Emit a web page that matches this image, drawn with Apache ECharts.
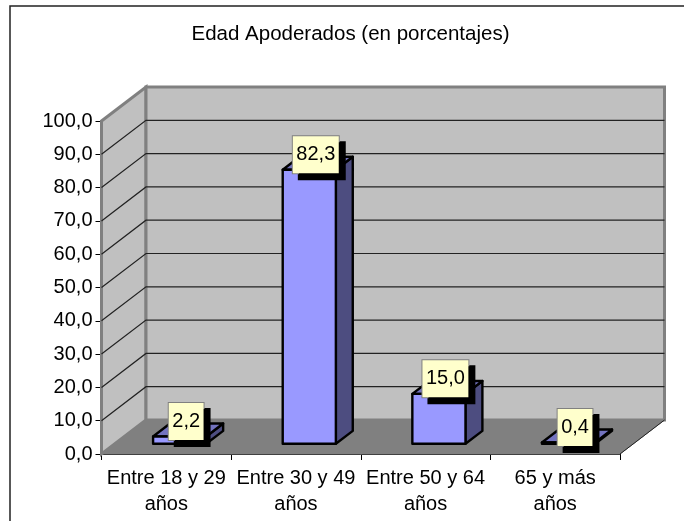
<!DOCTYPE html>
<html>
<head>
<meta charset="utf-8">
<style>
html, body { margin: 0; padding: 0; background: #fff; }
#chart { width: 684px; height: 521px; }
</style>
<script src="https://cdn.jsdelivr.net/npm/echarts@6/dist/echarts.min.js"></script>
</head>
<body>
<div id="chart"></div>
<script>
const categories = ['Entre 18 y 29\naños', 'Entre 30 y 49\naños', 'Entre 50 y 64\naños', '65 y más\naños']
const values = [2.2, 82.3, 15.0, 0.4]
const yTicks = [0, 10, 20, 30, 40, 50, 60, 70, 80, 90, 100]

// oblique offset of the back wall
const depthX = 44.5
const depthY = -34

const fmt = (v) => v.toFixed(1).replace('.', ',')

const chart = echarts.init(document.getElementById('chart'))

function renderWalls(params, api) {
    const cs = params.coordSys
    const y = api.coord([0, api.value(1)])[1]
    const left = cs.x
    const right = cs.x + cs.width
    const top = cs.y
    const bottom = cs.y + cs.height
    const children = []
    if (params.dataIndex === 0) {
        // side wall, back wall and floor go under the grid lines
        children.push({
            type: 'polygon',
            z2: 1,
            shape: { points: [[left, top], [left + depthX, top + depthY], [left + depthX, bottom + depthY], [left, bottom]] },
            style: { fill: '#c0c0c0', stroke: '#808080', lineWidth: 3 },
        })
        children.push({
            type: 'rect',
            z2: 1,
            shape: { x: left + depthX, y: top + depthY, width: cs.width, height: cs.height },
            style: { fill: '#c0c0c0', stroke: '#808080', lineWidth: 3 },
        })
        children.push({
            type: 'polygon',
            z2: 3,
            shape: { points: [[left, bottom], [left + depthX, bottom + depthY], [right + depthX, bottom + depthY], [right, bottom]] },
            style: { fill: '#808080', stroke: '#808080', lineWidth: 1 },
        })
        // thin dark edge on the open side of the floor
        children.push({
            type: 'line',
            z2: 4,
            shape: { x1: right, y1: bottom, x2: right + depthX, y2: bottom + depthY },
            style: { stroke: '#222', lineWidth: 1 },
        })
        return { type: 'group', children }
    }
    // the top edge of the walls stays grey, no dark line there
    if (params.dataIndex === yTicks.length - 1) {
        return { type: 'group', children }
    }
    children.push({
        type: 'polyline',
        z2: 2,
        shape: { points: [[left, y], [left + depthX, y + depthY], [right + depthX, y + depthY]] },
        style: { fill: null, stroke: '#222', lineWidth: 1.2 },
    })
    return { type: 'group', children }
}

function renderBars(params, api) {
    const c = api.coord([api.value(0), api.value(1)])
    const base = api.coord([api.value(0), 0])
    const band = api.size([1, 0])[0]
    const w = band * 0.41
    // bar sits between 30% and 68% of the floor depth
    const ox = depthX * 0.3
    const oy = depthY * 0.3
    const sx = depthX * 0.38
    const sy = depthY * 0.38
    const x0 = c[0] + ox - w / 2
    const x1 = x0 + w
    const yTop = c[1] + oy
    const yBot = base[1] + oy
    const edge = { stroke: '#000', lineWidth: 2.4, lineJoin: 'round' }
    return {
        type: 'group',
        children: [
            {
                type: 'polygon',
                shape: { points: [[x1, yTop], [x1 + sx, yTop + sy], [x1 + sx, yBot + sy], [x1, yBot]] },
                style: { fill: '#4d4d80', ...edge },
            },
            {
                type: 'polygon',
                shape: { points: [[x0, yTop], [x0 + sx, yTop + sy], [x1 + sx, yTop + sy], [x1, yTop]] },
                style: { fill: '#7373bf', ...edge },
            },
            {
                type: 'rect',
                shape: { x: x0, y: yTop, width: w, height: yBot - yTop },
                style: { fill: '#9999ff', ...edge },
            },
            {
                type: 'text',
                z2: 10,
                style: {
                    x: c[0] + ox + 6.5,
                    y: yTop - 15,
                    text: fmt(api.value(1)),
                    align: 'center',
                    verticalAlign: 'middle',
                    fontFamily: 'Liberation Sans',
                    fontSize: 20,
                    lineHeight: 23,
                    fill: '#000',
                    backgroundColor: '#ffffcc',
                    borderColor: '#808080',
                    borderWidth: 1,
                    padding: [7, 3.5, 7, 3.5],
                    shadowColor: '#000',
                    shadowOffsetX: 6,
                    shadowOffsetY: 6,
                    shadowBlur: 0,
                },
            },
        ],
    }
}

chart.setOption({
    animation: false,
    backgroundColor: '#fff',
    title: {
        text: 'Edad Apoderados (en porcentajes)',
        left: 345.5,
        top: 19,
        textAlign: 'center',
        textStyle: { fontFamily: 'Liberation Sans', fontSize: 20.5, fontWeight: 'normal', color: '#000' },
    },
    graphic: [
        {
            type: 'rect',
            silent: true,
            z: -1,
            shape: { x: 10, y: 6, width: 700, height: 560 },
            style: { fill: '#fff', stroke: '#222', lineWidth: 1.5 },
        },
    ],
    grid: { left: 101.5, top: 121, width: 518.5, height: 333 },
    xAxis: {
        type: 'category',
        data: categories,
        axisLine: { lineStyle: { color: '#000', width: 1 } },
        axisTick: { show: true, alignWithLabel: false, length: 6, lineStyle: { color: '#000' } },
        axisLabel: { fontFamily: 'Liberation Sans', fontSize: 20, color: '#000', lineHeight: 26, margin: 11, interval: 0 },
    },
    yAxis: {
        type: 'value',
        min: 0,
        max: 100,
        interval: 10,
        axisLine: { show: true, lineStyle: { color: '#000', width: 1 } },
        axisTick: { show: true, length: 6, lineStyle: { color: '#000' } },
        splitLine: { show: false },
        axisLabel: { fontFamily: 'Liberation Sans', fontSize: 20, color: '#000', margin: 9, padding: [2, 0, 0, 0], formatter: fmt },
    },
    series: [
        {
            type: 'custom',
            renderItem: renderWalls,
            silent: true,
            z: 1,
            data: yTicks.map((t) => [0, t]),
        },
        {
            type: 'custom',
            renderItem: renderBars,
            z: 2,
            data: values.map((v, i) => [i, v]),
        },
    ],
})
</script>
</body>
</html>
